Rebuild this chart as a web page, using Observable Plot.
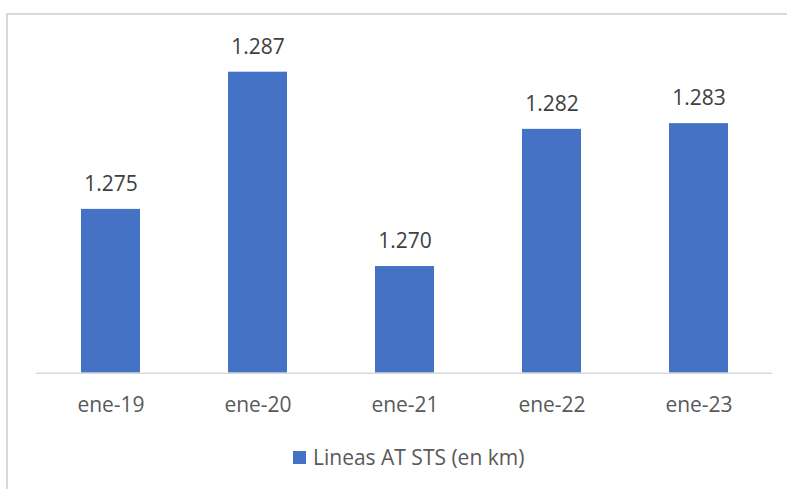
<!DOCTYPE html>
<html>
<head>
<meta charset="utf-8">
<script src="https://cdn.jsdelivr.net/npm/d3@7"></script>
<script src="https://cdn.jsdelivr.net/npm/@observablehq/plot@0.6"></script>
<style>
  html, body { margin: 0; padding: 0; background: #fff; }
  body { width: 787px; height: 489px; position: relative; overflow: hidden; font-family: "Open Sans", sans-serif; }
  #chart { position: absolute; left: 0; top: 0; }
  #frame { position: absolute; left: 6px; top: 13px; width: 800px; height: 500px;
           border-left: 2px solid #d9d9d9; border-top: 2px solid #d9d9d9; box-sizing: border-box; pointer-events: none; }
  #legend { position: absolute; left: 293px; top: 445px; display: flex; align-items: center;
            font-size: 21px; line-height: 24px; color: #595959; white-space: nowrap; }
  #legend .sw { width: 13px; height: 13px; background: #4472C4; margin-right: 7px; }
</style>
</head>
<body>
<div id="chart"></div>
<div id="frame"></div>
<div id="legend"><span class="sw"></span><span id="legend-label"></span></div>
<script>
const categories = ["ene-19", "ene-20", "ene-21", "ene-22", "ene-23"];
const values = [1275, 1287, 1270, 1282, 1282.5];
const seriesName = "Lineas AT STS (en km)";
const yMin = 1260.67;
const yMax = 1290;

const locale = d3.formatLocale({decimal: ",", thousands: ".", grouping: [3], currency: ["", " €"]});
const fmt = locale.format(",.0f");

const data = categories.map((c, i) => ({cat: c, value: values[i]}));

const plot = Plot.plot({
  width: 787,
  height: 430,
  marginLeft: 36,
  marginRight: 15,
  marginTop: 37.4,
  marginBottom: 57.3,
  style: {fontFamily: "Open Sans", background: "transparent"},
  x: {domain: categories, paddingInner: 0.6, paddingOuter: 0.3, label: null},
  y: {domain: [yMin, yMax], axis: null},
  marks: [
    Plot.barY(data, {x: "cat", y1: yMin, y2: "value", fill: "#4472C4"}),
    Plot.ruleY([yMin], {stroke: "#d9d9d9", strokeWidth: 1.5}),
    Plot.text(data, {x: "cat", y: "value", text: d => fmt(d.value), dy: -25,
      fontSize: 21, fill: "#404040", textAnchor: "middle"}),
    Plot.axisX({tickSize: 0, tickPadding: 24, fontSize: 21, color: "#595959", label: null})
  ]
});
document.getElementById("chart").appendChild(plot);
document.getElementById("legend-label").textContent = seriesName;
</script>
</body>
</html>
